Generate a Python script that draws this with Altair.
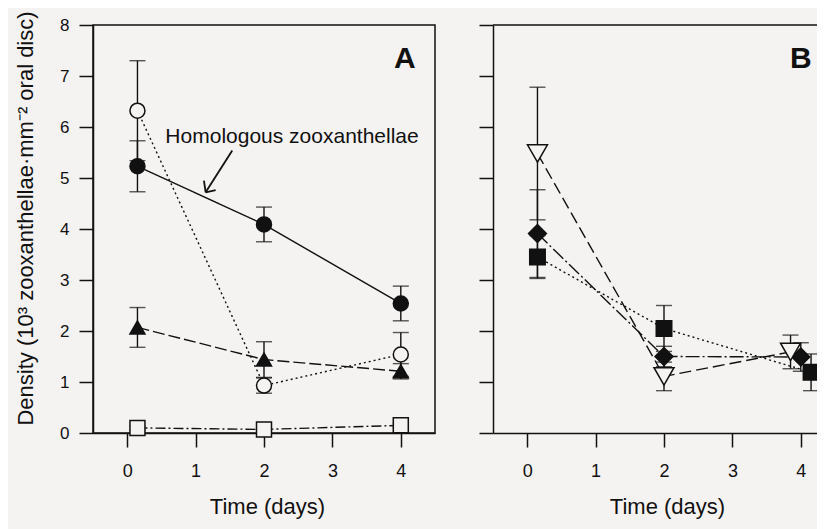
import altair as alt
import pandas as pd

BG = "#f5f3f1"
INK = "#111111"
FONT = "Liberation Sans"

# ---------------- Panel A data ----------------
A_series = ["homologous", "open_circle", "filled_triangle", "open_square"]
A_days = [0.15, 2, 4]
A_hom = [5.23, 4.09, 2.54]
A_hom_err = [0.50, 0.34, 0.34]
A_open = [6.32, 0.93, 1.54]
A_open_err = [0.98, 0.15, 0.43]
A_tri = [2.07, 1.44, 1.21]
A_tri_err = [0.39, 0.35, 0.15]
A_sq = [0.10, 0.07, 0.15]
A_sq_err = [0.04, 0.04, 0.04]

# ---------------- Panel B data ----------------
B_series = ["filled_square", "filled_diamond", "open_down"]
B_sq_days = [0.15, 2, 4.15]
B_sq = [3.45, 2.05, 1.19]
B_sq_err = [0.42, 0.45, 0.36]
B_dia_days = [0.15, 2, 4.0]
B_dia = [3.91, 1.50, 1.49]
B_dia_err = [0.86, 0.20, 0.28]
B_tri_days = [0.15, 2, 3.85]
B_tri = [5.48, 1.11, 1.59]
B_tri_err = [1.30, 0.28, 0.33]

# annotation (data coordinates of panel A)
note_text = ["Homologous zooxanthellae"]
note_x = [2.41]
note_y = [5.68]
arrow_x = [1.536, 1.122, 1.293]
arrow_y = [5.54, 4.95, 4.76]
arrow_tip = (1.147, 4.72)

# series styles
STYLE = {
    "homologous":      dict(shape="circle", fill=INK, size=225, dash=[1, 0]),
    "open_circle":     dict(shape="circle", fill=BG, size=225, dash=[2, 3]),
    "filled_triangle": dict(shape="triangle-up", fill=INK, size=330, dash=[12, 4]),
    "open_square":     dict(shape="square", fill=BG, size=240, dash=[10, 3, 2, 3]),
    "filled_square":   dict(shape="square", fill=INK, size=240, dash=[2, 3]),
    "filled_diamond":  dict(shape="diamond", fill=INK, size=400, dash=[14, 3, 2, 3]),
    "open_down":       dict(shape="triangle-down", fill=BG, size=340, dash=[12, 5]),
}


def frame(series, days, vals, errs):
    rows = []
    for s, d, v, e in zip(series, days, vals, errs):
        for dd, vv, ee in zip(d, v, e):
            rows.append({"series": s, "day": dd, "value": vv, "lo": vv - ee, "hi": vv + ee})
    return pd.DataFrame(rows)


dfA = frame(A_series, [A_days] * 4, [A_hom, A_open, A_tri, A_sq],
            [A_hom_err, A_open_err, A_tri_err, A_sq_err])
dfB = frame(B_series, [B_sq_days, B_dia_days, B_tri_days], [B_sq, B_dia, B_tri],
            [B_sq_err, B_dia_err, B_tri_err])


def panel(df, series, xdom, width, height, show_labels, letter, letter_x, frame_stroke):
    xs = alt.Scale(domain=xdom, nice=False, zero=False)
    ys = alt.Scale(domain=[0, 8], nice=False, zero=False)
    xaxis = alt.Axis(values=[0, 1, 2, 3, 4], format="d", title="Time (days)", titlePadding=16,
                     labelPadding=15, titleX=174)
    if show_labels:
        yaxis = alt.Axis(values=list(range(9)), format="d",
                         title="Density (10³ zooxanthellae·mm⁻² oral disc)",
                         labelPadding=10, titlePadding=22, titleY=193)
    else:
        yaxis = alt.Axis(values=list(range(9)), labels=False, title=None)
    X = alt.X("day:Q", scale=xs, axis=xaxis)
    Y = alt.Y("value:Q", scale=ys, axis=yaxis)
    base = alt.Chart(df)
    dash = alt.StrokeDash("series:N", scale=alt.Scale(domain=series, range=[STYLE[s]["dash"] for s in series]), legend=None)
    lines = base.mark_line(color=INK, strokeWidth=1.4).encode(x=X, y=Y, detail="series:N", strokeDash=dash)
    bars = base.mark_rule(color=INK, strokeWidth=1.4).encode(x=X, y=alt.Y("lo:Q", scale=ys), y2="hi:Q")
    cap_lo = base.mark_tick(color=INK, size=16, thickness=1.4, orient="horizontal").encode(x=X, y=alt.Y("lo:Q", scale=ys))
    cap_hi = base.mark_tick(color=INK, size=16, thickness=1.4, orient="horizontal").encode(x=X, y=alt.Y("hi:Q", scale=ys))
    pts = base.mark_point(stroke=INK, strokeWidth=1.5, opacity=1, fillOpacity=1).encode(
        x=X, y=Y,
        shape=alt.Shape("series:N", scale=alt.Scale(domain=series, range=[STYLE[s]["shape"] for s in series]), legend=None),
        fill=alt.Fill("series:N", scale=alt.Scale(domain=series, range=[STYLE[s]["fill"] for s in series]), legend=None),
        size=alt.Size("series:N", scale=alt.Scale(domain=series, range=[STYLE[s]["size"] for s in series]), legend=None),
    )
    lab = alt.Chart(pd.DataFrame({"t": [letter], "x": [letter_x], "y": [7.16]})).mark_text(
        font=FONT, fontSize=30, fontWeight="bold", color=INK, baseline="alphabetic", align="center"
    ).encode(x=alt.X("x:Q", scale=xs), y=alt.Y("y:Q", scale=ys), text="t:N")
    layers = [bars, cap_lo, cap_hi, lines, pts, lab]
    if not frame_stroke:
        top = alt.Chart(pd.DataFrame({"a": [0]})).mark_rule(color=INK, strokeWidth=1.5).encode(
            x=alt.datum(xdom[0], scale=xs), x2=alt.datum(xdom[1]), y=alt.datum(8, scale=ys))
        layers.append(top)
    ch = alt.layer(*layers).properties(width=width, height=height,
                                       view=alt.ViewBackground(stroke=INK if frame_stroke else "transparent",
                                                               strokeWidth=1.5))
    return ch, xs, ys


chartA, xsA, ysA = panel(dfA, A_series, [-0.5, 4.5], 342, 408, True, "A", 4.06, True)
chartB, xsB, ysB = panel(dfB, B_series, [-0.5, 4.5], 342, 408, False, "B", 4.0, False)

note = alt.Chart(pd.DataFrame({"t": note_text, "x": note_x, "y": note_y})).mark_text(
    font=FONT, fontSize=21, color=INK, baseline="alphabetic", align="center"
).encode(x=alt.X("x:Q", scale=xsA), y=alt.Y("y:Q", scale=ysA), text="t:N")
arr = alt.Chart(pd.DataFrame({"x": arrow_x, "y": arrow_y, "tx": [arrow_tip[0]] * 3, "ty": [arrow_tip[1]] * 3})).mark_rule(
    color=INK, strokeWidth=1.8
).encode(x=alt.X("x:Q", scale=xsA), y=alt.Y("y:Q", scale=ysA), x2="tx:Q", y2="ty:Q")

chartA = alt.layer(chartA, note, arr)

chart = alt.hconcat(chartA, chartB, spacing=41).resolve_scale(
    shape="independent", fill="independent", size="independent", strokeDash="independent"
).properties(
    background=BG, autosize=alt.AutoSizeParams(type="none"),
    padding={"left": 85, "top": 17, "right": 724, "bottom": 492}
).configure_axis(
    domainColor=INK, domainWidth=1.5, tickColor=INK, tickWidth=1.5, tickSize=14,
    labelColor=INK, labelFont=FONT, labelFontSize=17, titleFont=FONT, titleFontSize=22,
    titleFontWeight="normal", titleColor=INK, grid=False
).configure_axisX(labelFontSize=18, titleFontSize=22)

chart.save("out.html", embed_options={"renderer": "svg", "actions": False})
